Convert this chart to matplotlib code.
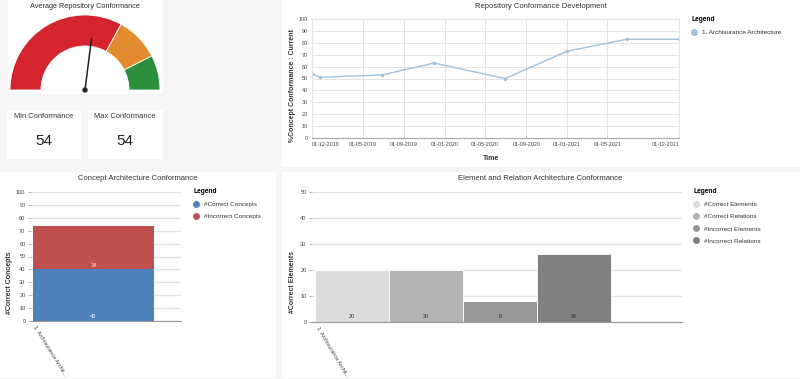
import matplotlib
matplotlib.use("Agg")
import matplotlib.pyplot as plt
from matplotlib.patches import Wedge, Rectangle, Circle
from matplotlib.lines import Line2D
import numpy as np
import pandas as pd

plt.rcParams['font.family'] = ['Liberation Sans', 'DejaVu Sans']

# ---- data ----
avg_conformance = 54
min_conformance = 54
max_conformance = 54
gauge_bands = [0, 66, 85, 100]
gauge_colors = ['#d4242d', '#e38b31', '#2b8f3c']

dev_dates = ['2018-12-01', '2018-12-25', '2019-06-28', '2019-11-30',
             '2020-06-30', '2021-01-01', '2021-06-28', '2021-12-01']
dev_values = [54, 51, 53, 63, 50, 73, 83, 83]
dev_series = '1. Archisurance Architecture'
dev_ticks = ['2018-12-01', '2019-05-01', '2019-09-01', '2020-01-01', '2020-05-01',
             '2020-09-01', '2021-01-01', '2021-05-01', '2021-12-01']

repo_label = '1. Archisurance Archit...'
concept_labels = ['#Correct Concepts', '#Incorrect Concepts']
concept_values = [40, 34]
concept_colors = ['#4f81bd', '#c0504d']

elem_labels = ['#Correct Elements', '#Correct Relations', '#Incorrect Elements', '#Incorrect Relations']
elem_values = [20, 20, 8, 26]
elem_colors = ['#dcdcdc', '#b3b3b3', '#979797', '#808080']

W, H = 800, 379
fig = plt.figure(figsize=(8, 3.79), dpi=100)
fig.patch.set_facecolor('#f5f5f5')


def box(x0, y0, x1, y1):
    return [x0 / W, 1 - y1 / H, (x1 - x0) / W, (y1 - y0) / H]


def fx(x):
    return x / W


def fy(y):
    return 1 - y / H


def panel(x0, y0, x1, y1):
    fig.patches.append(Rectangle((x0 / W, 1 - y1 / H), (x1 - x0) / W, (y1 - y0) / H,
                                 transform=fig.transFigure, facecolor='white',
                                 edgecolor='none', zorder=-10))


panel(8, 0, 163, 94)
panel(7, 110, 81, 159)
panel(88, 110, 163, 159)
panel(282, 0, 800, 167)
panel(0, 172, 276, 378)
panel(282, 172, 800, 378)

grid_c = '#e3e3e3'
tick_c = '#444444'


def legend(ax, handles, labels, x, y):
    lg = ax.legend(handles, labels, loc='upper left', bbox_to_anchor=(fx(x), fy(y)),
                   bbox_transform=fig.transFigure, frameon=False, fontsize=4.6,
                   title='Legend', title_fontproperties={'weight': 'bold', 'size': 4.8},
                   alignment='left', handlelength=0.8, handletextpad=0.9,
                   labelspacing=1.05, borderpad=0, borderaxespad=0)
    for t in lg.get_texts():
        t.set_color('#333333')
    return lg


# ---- gauge ----
gx = fig.add_axes(box(8, 10, 162, 94))
gx.set_xlim(-77, 77)
gx.set_ylim(-4, 80)
gx.axis('off')
for i, c in enumerate(gauge_colors):
    a0 = 180 - gauge_bands[i + 1] * 1.8
    a1 = 180 - gauge_bands[i] * 1.8
    gx.add_patch(Wedge((0, 0), 75, a0, a1, width=31, facecolor=c, edgecolor='white', lw=0.6))
ang = np.radians(180 - avg_conformance * 1.8)
gx.plot([0, 52 * np.cos(ang)], [0, 52 * np.sin(ang)], color='#222222', lw=1.1, solid_capstyle='round')
gx.add_patch(Circle((0, 0), 2, color='#222222'))
fig.text(fx(85), fy(6), 'Average Repository Conformance', ha='center', va='center', fontsize=5.3, color='#333333')

fig.text(fx(44), fy(116), 'Min Conformance', ha='center', va='center', fontsize=5.4, color='#333333')
fig.text(fx(44), fy(141), str(min_conformance), ha='center', va='center', fontsize=11, color='#222222')
fig.text(fx(125), fy(116), 'Max Conformance', ha='center', va='center', fontsize=5.4, color='#333333')
fig.text(fx(125), fy(141), str(max_conformance), ha='center', va='center', fontsize=11, color='#222222')

# ---- development line ----
ax = fig.add_axes(box(312, 19, 679, 138))
d = pd.to_datetime(dev_dates)
ax.plot(d, dev_values, color='#9fc0e0', lw=1, marker='o', ms=1.5)
ax.set_xlim(pd.Timestamp(dev_ticks[0]), pd.Timestamp(dev_ticks[-1]))
ax.set_ylim(0, 100)
ax.set_yticks(range(0, 101, 10))
tks = pd.to_datetime(dev_ticks)
ax.set_xticks(tks)
ax.set_xticklabels([t.strftime('%d-%m-%Y') for t in tks])
lbls = ax.get_xticklabels()
lbls[0].set_ha('left')
lbls[-1].set_ha('right')
ax.tick_params(labelsize=3.9, colors=tick_c, length=0, pad=3)
ax.grid(True, color=grid_c, lw=0.7)
ax.set_axisbelow(True)
for s in ['top', 'right', 'left']:
    ax.spines[s].set_color(grid_c)
ax.spines['bottom'].set_color('#aaaaaa')
fig.text(fx(541), fy(6), 'Repository Conformance Development', ha='center', va='center', fontsize=5.5, color='#333333')
fig.text(fx(292), fy(85), '%Concept Conformance : Current', rotation=90, ha='center', va='center',
         fontsize=5, fontweight='bold', color='#333333')
fig.text(fx(491), fy(158), 'Time', ha='center', va='center', fontsize=5, fontweight='bold', color='#333333')
legend(ax, [Line2D([], [], ls='', marker='o', ms=4, color='#9fc0e0')], [dev_series], 691, 16)

# ---- concept stacked bar ----
cx = fig.add_axes(box(31, 192, 181, 321))
bottom = 0
for v, c in zip(concept_values, concept_colors):
    cx.bar(0, v, bottom=bottom, width=0.8, color=c)
    cx.text(0, bottom + 3.3, str(v), ha='center', va='center', fontsize=4, color='#f0f0f0')
    bottom += v
cx.set_xlim(-0.413, 0.579)
cx.set_ylim(0, 100)
cx.set_yticks(range(0, 101, 10))
cx.set_xticks([-0.38])
cx.set_xticklabels([repo_label], rotation=-58, ha='left', va='top', rotation_mode='anchor')
cx.tick_params(axis='y', labelsize=4, colors=tick_c, length=2.5, width=0.5, color='#999999', pad=1.5)
cx.tick_params(axis='x', labelsize=4, colors=tick_c, length=0, pad=3)
cx.yaxis.grid(True, color=grid_c, lw=1)
cx.set_axisbelow(True)
for s in ['top', 'right', 'left']:
    cx.spines[s].set_visible(False)
cx.spines['bottom'].set_color('#999999')
fig.text(fx(138), fy(179), 'Concept Architecture Conformance', ha='center', va='center', fontsize=5.5, color='#333333')
fig.text(fx(10), fy(283), '#Correct Concepts', rotation=90, ha='center', va='center',
         fontsize=5, fontweight='bold', color='#333333')
legend(cx, [Line2D([], [], ls='', marker='o', ms=4, color=c) for c in concept_colors],
       concept_labels, 193, 188)

# ---- element bars ----
ex = fig.add_axes(box(312, 192, 682, 322))
xs = np.arange(len(elem_values))
ex.bar(xs, elem_values, width=1, color=elem_colors, edgecolor='white', lw=0.6)
for x, v in zip(xs, elem_values):
    ex.text(x, 2, str(v), ha='center', va='center', fontsize=4, color='#333333')
ex.set_xlim(-0.54, 4.46)
ex.set_ylim(0, 50)
ex.set_yticks(range(0, 51, 10))
ex.set_xticks([-0.44])
ex.set_xticklabels([repo_label], rotation=-59, ha='left', va='top', rotation_mode='anchor')
ex.tick_params(axis='y', labelsize=4, colors=tick_c, length=2.5, width=0.5, color='#999999', pad=1.5)
ex.tick_params(axis='x', labelsize=4, colors=tick_c, length=0, pad=3)
ex.yaxis.grid(True, color=grid_c, lw=1)
ex.set_axisbelow(True)
for s in ['top', 'right', 'left']:
    ex.spines[s].set_visible(False)
ex.spines['bottom'].set_color('#999999')
fig.text(fx(540), fy(179), 'Element and Relation Architecture Conformance', ha='center', va='center',
         fontsize=5.5, color='#333333')
fig.text(fx(292), fy(282), '#Correct Elements', rotation=90, ha='center', va='center',
         fontsize=5, fontweight='bold', color='#333333')
legend(ex, [Line2D([], [], ls='', marker='o', ms=4, color=c) for c in elem_colors],
       elem_labels, 693, 188)

fig.savefig('out.png', dpi=100, facecolor=fig.get_facecolor())
